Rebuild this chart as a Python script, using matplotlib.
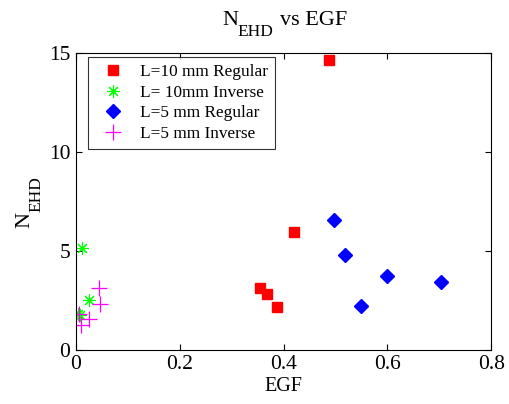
import matplotlib
matplotlib.use('Agg')
import matplotlib.pyplot as plt

plt.rcParams['font.family'] = ['Liberation Serif', 'DejaVu Serif']

# data
reg10_x = [0.487, 0.421, 0.354, 0.369, 0.388]
reg10_y = [14.6, 5.95, 3.1, 2.8, 2.15]
inv10_x = [0.012, 0.026, 0.003, 0.007]
inv10_y = [5.15, 2.5, 1.8, 1.75]
reg5_x = [0.498, 0.519, 0.600, 0.704, 0.550]
reg5_y = [6.55, 4.78, 3.72, 3.42, 2.2]
inv5_x = [0.044, 0.047, 0.025, 0.009, 0.005]
inv5_y = [3.1, 2.3, 1.55, 1.25, 1.8]

labels = ['L=10 mm Regular', 'L= 10mm Inverse', 'L=5 mm Regular', 'L=5 mm Inverse']
xticks = [0, 0.2, 0.4, 0.6, 0.8]
xticklabels = ['0', '0.2', '0.4', '0.6', '0.8']
yticks = [0, 5, 10, 15]

W, H = 510, 404
fig = plt.figure(figsize=(W / 100, H / 100), dpi=100)
ax = fig.add_axes([0.149, 0.134, 0.814, 0.736])

ax.plot(reg10_x, reg10_y, 's', color='#ff0000', markersize=7, label=labels[0])
ax.plot(inv10_x, inv10_y, marker=(8, 2, 0), linestyle='none', color='#00ff00',
        markersize=9, markeredgewidth=0.8, label=labels[1])
ax.plot(reg5_x, reg5_y, 'D', color='#0000ff', markersize=7, label=labels[2])
ax.plot(inv5_x, inv5_y, '+', color='#ff00ff', markersize=11,
        markeredgewidth=0.9, label=labels[3])

ax.set_xlim(0, 0.8)
ax.set_ylim(0, 15)
ax.set_xticks(xticks)
ax.set_xticklabels(xticklabels)
ax.set_yticks(yticks)
ax.tick_params(direction='in', top=True, right=True, length=4,
               labelsize=15.5, pad=4)
for s in ax.spines.values():
    s.set_linewidth(0.8)

ax.set_xlabel('EGF', fontsize=14.5, labelpad=2)


# MATLAB-style subscripts (deeper drop than mathtext), placed in figure pixels
def ptext(x, y, s, size, rot=0):
    fig.text(x / W, 1 - y / H, s, fontsize=size, rotation=rot,
             rotation_mode='anchor', ha='left', va='baseline')


# title  N_EHD vs EGF
ptext(222, 25, 'N', 16)
ptext(237, 36, 'EHD', 12.5)
ptext(280, 25, 'vs EGF', 16)
# y label  N_EHD
ptext(29, 228, 'N', 16, rot=90)
ptext(40, 212, 'EHD', 12.5, rot=90)

leg = ax.legend(loc='upper left', bbox_to_anchor=(0.03, 0.985), borderaxespad=0,
                fontsize=12.4, frameon=True, fancybox=False, handletextpad=0.6,
                labelspacing=0.27, borderpad=0.4, handlelength=2.0)
leg.get_frame().set_edgecolor('black')
leg.get_frame().set_linewidth(0.8)

fig.savefig('out.png', dpi=100)
